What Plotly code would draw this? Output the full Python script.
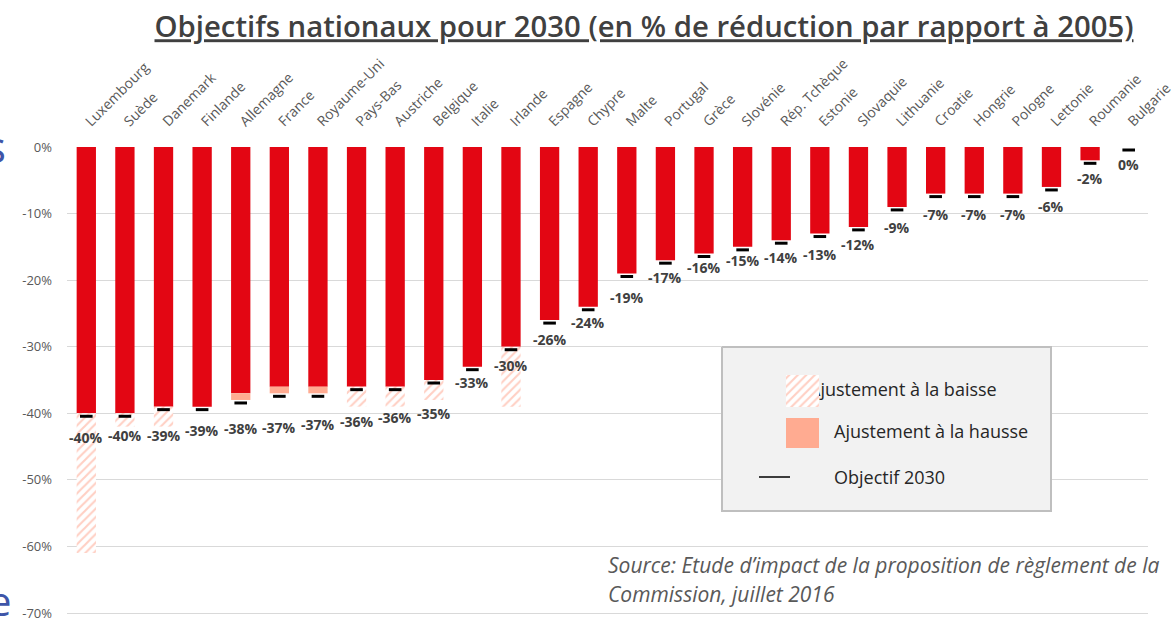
import plotly.graph_objects as go

# ---------------- data ----------------
countries = ["Luxembourg", "Suède", "Danemark", "Finlande", "Allemagne", "France",
             "Royaume-Uni", "Pays-Bas", "Austriche", "Belgique", "Italie", "Irlande",
             "Espagne", "Chypre", "Malte", "Portugal", "Grèce", "Slovénie",
             "Rép. Tchèque", "Estonie", "Slovaquie", "Lithuanie", "Croatie", "Hongrie",
             "Pologne", "Lettonie", "Roumanie", "Bulgarie"]
base_pct = [-40, -40, -39, -39, -37, -36, -36, -36, -36, -35, -33, -30,
            -26, -24, -19, -17, -16, -15, -14, -13, -12, -9, -7, -7, -7, -6, -2, 0]
hausse_pct = [0, 0, 0, 0, -1, -1, -1, 0, 0, 0, 0, 0,
              0, 0, 0, 0, 0, 0, 0, 0, 0, 0, 0, 0, 0, 0, 0, 0]
baisse_pct = [-21, -2, -3, 0, 0, 0, 0, -3, -3, -3, 0, -9,
              0, 0, 0, 0, 0, 0, 0, 0, 0, 0, 0, 0, 0, 0, 0, 0]
objectif_pct = [-40, -40, -39, -39, -38, -37, -37, -36, -36, -35, -33, -30,
                -26, -24, -19, -17, -16, -15, -14, -13, -12, -9, -7, -7, -7, -6, -2, 0]
y_tick_vals = [0, -10, -20, -30, -40, -50, -60, -70]
y_tick_text = ["0%", "-10%", "-20%", "-30%", "-40%", "-50%", "-60%", "-70%"]

# ---------------- layout helpers (styling only) ----------------
W, H = 1173, 618
L, R, T, B = 67, 25, 147, 3
Y_MIN = -70.3
PX0, PX1 = L, W - R
PY0, PY1 = T, H - B
FONT = "Open Sans"
RED = "#E30613"
SALMON = "#FFAB91"
HATCH = "#FF9F87"
label_drop_px = [24, 22, 29, 24, 29, 34, 31, 35, 31, 33, 16, 19,
                 19, 16, 24, 17, 14, 14, 17, 21, 18, 21, 21, 21, 21, 20, 18, 17]


def px_x(p):
    return (p - PX0) / (PX1 - PX0)


def px_y(p):
    return (PY1 - p) / (PY1 - PY0)


fig = go.Figure()

fig.add_trace(go.Bar(x=countries, y=base_pct, marker=dict(color=RED, line_width=0),
                     name="Objectif", showlegend=False))
fig.add_trace(go.Bar(x=countries, y=hausse_pct, base=base_pct,
                     marker=dict(color=SALMON, line_width=0),
                     name="Ajustement à la hausse", showlegend=False))
fig.add_trace(go.Bar(x=countries, y=baisse_pct, base=base_pct,
                     marker=dict(color="white", line_width=0,
                                 pattern=dict(shape="/", fgcolor=HATCH, bgcolor="white",
                                              size=6, solidity=0.35)),
                     name="Ajustement à la baisse", showlegend=False))
fig.add_trace(go.Scatter(x=countries, y=[o - 0.45 for o in objectif_pct], mode="markers",
                         marker=dict(symbol="line-ew", size=9,
                                     line=dict(width=3, color="black")),
                         name="Objectif 2030", showlegend=False, cliponaxis=False))

# data labels
for c, o, d in zip(countries, objectif_pct, label_drop_px):
    fig.add_annotation(x=c, y=o, xref="x", yref="y", text=f"{o}%", showarrow=False,
                       yshift=-d, yanchor="middle",
                       font=dict(family=FONT, size=14, color="#404040", weight="bold"))

# ---------------- custom legend on overlay axes (pixel coords) ----------------
box_x = [722, 1051, 1051, 722, 722]
box_y = [347, 347, 511, 511, 347]
fig.add_trace(go.Scatter(x=box_x, y=box_y, xaxis="x2", yaxis="y2", mode="lines",
                         fill="toself", fillcolor="#F2F2F2",
                         line=dict(color="#BFBFBF", width=2),
                         showlegend=False, hoverinfo="skip"))
fig.add_trace(go.Scatter(x=[809], y=[391.5], xaxis="x2", yaxis="y2", mode="text",
                         text=["Ajustement à la baisse"], textposition="middle right",
                         textfont=dict(family=FONT, size=18, color="#262626"),
                         showlegend=False, hoverinfo="skip"))
fig.add_trace(go.Scatter(x=[786, 819, 819, 786, 786], y=[375, 375, 407, 407, 375],
                         xaxis="x2", yaxis="y2", mode="lines", fill="toself",
                         fillcolor="white", line=dict(width=0, color="rgba(0,0,0,0)"),
                         fillpattern=dict(shape="/", fgcolor=HATCH, bgcolor="white",
                                          size=6, solidity=0.35),
                         showlegend=False, hoverinfo="skip"))
fig.add_trace(go.Scatter(x=[786, 819, 819, 786, 786], y=[418, 418, 448, 448, 418],
                         xaxis="x2", yaxis="y2", mode="lines", fill="toself",
                         fillcolor=SALMON, line=dict(width=0, color="rgba(0,0,0,0)"),
                         showlegend=False, hoverinfo="skip"))
fig.add_trace(go.Scatter(x=[759, 790], y=[477, 477], xaxis="x2", yaxis="y2", mode="lines",
                         line=dict(width=1.5, color="black"),
                         showlegend=False, hoverinfo="skip"))

for txt, yy in [("Ajustement à la hausse", 431), ("Objectif 2030", 477)]:
    fig.add_annotation(x=px_x(832), y=px_y(yy), xref="paper", yref="paper", text=txt,
                       showarrow=False, xanchor="left", yanchor="middle",
                       font=dict(family=FONT, size=18, color="#262626"))

# source
for txt, yy in [("Source: Etude d’impact de la proposition de règlement de la", 565),
                ("Commission, juillet 2016", 594)]:
    fig.add_annotation(x=px_x(606), y=px_y(yy), xref="paper", yref="paper", text=txt,
                       showarrow=False, xanchor="left", yanchor="middle",
                       font=dict(family=FONT, size=21, color="#595959", style="italic"))

# stray slide letters at the left edge
fig.add_annotation(x=px_x(8), y=px_y(146), xref="paper", yref="paper", text="s",
                   showarrow=False, xanchor="right", yanchor="middle",
                   font=dict(family=FONT, size=44, color="#3E55A8"))
fig.add_annotation(x=px_x(13), y=px_y(600), xref="paper", yref="paper", text="e",
                   showarrow=False, xanchor="right", yanchor="middle",
                   font=dict(family=FONT, size=40, color="#3E55A8"))

fig.update_layout(
    width=W, height=H,
    margin=dict(l=L, r=R, t=T, b=B, autoexpand=False),
    paper_bgcolor="white", plot_bgcolor="white",
    barmode="overlay", bargap=0.5,
    showlegend=False,
    title=dict(text="Objectifs nationaux pour 2030 (en % de réduction par rapport à 2005)",
               x=644 / W, xanchor="center", xref="container",
               y=1 - 27 / H, yanchor="middle", yref="container",
               font=dict(family=FONT, size=29.3, color="#404040", weight=600,
                         lineposition="under")),
    xaxis=dict(type="category", side="top", tickangle=-45, showgrid=False,
               range=[-0.5, len(countries) - 0.5],
               showline=False, zeroline=False, ticks="", ticklabelstandoff=14,
               tickfont=dict(family=FONT, size=14, color="#595959")),
    yaxis=dict(range=[Y_MIN, 0], tickvals=y_tick_vals, ticktext=y_tick_text,
               showgrid=True, gridcolor="#D9D9D9", gridwidth=1, zeroline=False,
               showline=False, ticks="", ticklabelstandoff=14,
               ticklabeloverflow="allow",
               tickfont=dict(family=FONT, size=13, color="#595959")),
    xaxis2=dict(overlaying="x", range=[PX0, PX1], visible=False, fixedrange=True),
    yaxis2=dict(overlaying="y", range=[PY1, PY0], visible=False, fixedrange=True),
)

fig.write_html("out.html", config={"displayModeBar": False},
               post_script="document.body.style.margin='0';")
